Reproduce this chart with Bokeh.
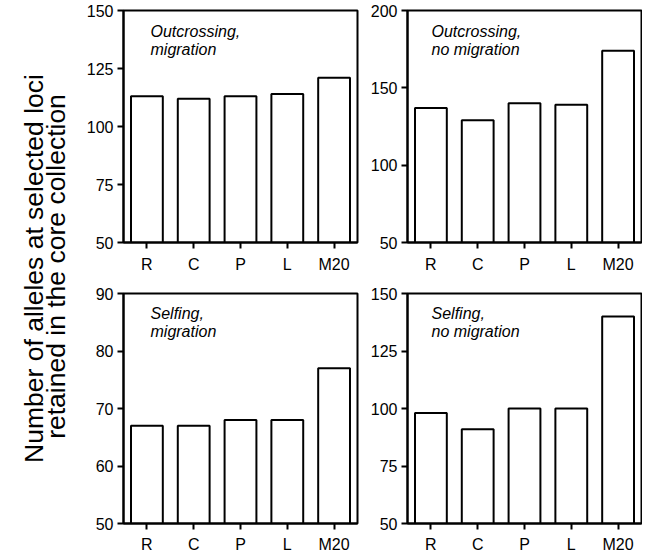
import math
from bokeh.plotting import figure
from bokeh.layouts import row, column
from bokeh.models import Range1d, FixedTicker, Label
from bokeh.embed import file_html
from bokeh.resources import INLINE
from bokeh.core.properties import value

methods = ["R", "C", "P", "L", "M20"]
outcross_migration = [113, 112, 113, 114, 121]
outcross_no_migration = [137, 129, 140, 139, 174]
selfing_migration = [67, 67, 68, 68, 77]
selfing_no_migration = [98, 91, 100, 100, 140]

titles = [("Outcrossing,", "migration"), ("Outcrossing,", "no migration"),
          ("Selfing,", "migration"), ("Selfing,", "no migration")]
y_ticks = [[50, 75, 100, 125, 150], [50, 100, 150, 200],
           [50, 60, 70, 80, 90], [50, 75, 100, 125, 150]]
ylabel_lines = ["Number of alleles at selected loci", "retained in the core collection"]

FONT = "Liberation Sans"
FW = 234


def panel(vals, ticks, title, top_row, right_col):
    mbt = 10 if top_row else 8
    fh = 232 if top_row else 231
    mbb = 43 if top_row else 31
    mbl = 48 if right_col else 50
    mbr = 1 if right_col else 2
    lo, hi = ticks[0], ticks[-1]
    p = figure(x_range=methods, y_range=Range1d(lo, hi),
               width=mbl + FW + mbr, height=mbt + fh + mbb,
               min_border_left=mbl, min_border_right=mbr,
               min_border_top=mbt, min_border_bottom=mbb,
               output_backend="svg", toolbar_location=None)
    p.vbar(x=methods, top=vals, bottom=lo, width=0.68,
           fill_color="white", line_color="black", line_width=2)
    p.xgrid.visible = False
    p.ygrid.visible = False
    p.outline_line_color = "black"
    p.outline_line_width = 2
    p.outline_line_alpha = 1
    p.background_fill_color = "white"
    p.border_fill_color = "white"
    p.yaxis.ticker = FixedTicker(ticks=ticks)
    p.yaxis.minor_tick_line_color = None
    for ax in (p.xaxis[0], p.yaxis[0]):
        ax.axis_line_width = 2
        ax.axis_line_color = "black"
        ax.major_tick_line_width = 2
        ax.major_tick_line_color = "black"
        ax.major_tick_in = 0
        ax.major_tick_out = 6
        ax.major_label_text_font = FONT
        ax.major_label_text_font_size = "16px"
        ax.major_label_text_color = "black"
    p.yaxis.major_label_standoff = 4
    p.xaxis.major_label_standoff = 7 if top_row else 6
    rng = hi - lo
    xoff = (24 if right_col else 27) / (FW / len(methods))
    for t, dy in zip(title, (12, 30)):
        p.add_layout(Label(x=xoff, y=hi - dy * rng / fh, text=t,
                           text_font=FONT, text_font_style="italic",
                           text_font_size="16px", text_baseline="top",
                           text_align="left", text_color="black"))
    return p


p1 = panel(outcross_migration, y_ticks[0], titles[0], True, False)
p2 = panel(outcross_no_migration, y_ticks[1], titles[1], True, True)
p3 = panel(selfing_migration, y_ticks[2], titles[2], False, False)
p4 = panel(selfing_no_migration, y_ticks[3], titles[3], False, True)

H = p1.height + p3.height
LW = 73
lab = figure(width=LW, height=H, x_range=Range1d(0, LW), y_range=Range1d(0, H),
             x_axis_location=None, y_axis_location=None,
             min_border=0, output_backend="svg", toolbar_location=None)
lab.xgrid.visible = False
lab.ygrid.visible = False
lab.outline_line_color = None
lab.text(x=[33, 55], y=[H - 268, H - 266], text=ylabel_lines, angle=math.pi / 2,
         text_align="center", text_baseline="alphabetic",
         text_font=value(FONT), text_font_size="26.5px", text_color="black")

layout = row(lab, column(row(p1, p2), row(p3, p4)))

open("out.html", "w").write(file_html(layout, INLINE))
